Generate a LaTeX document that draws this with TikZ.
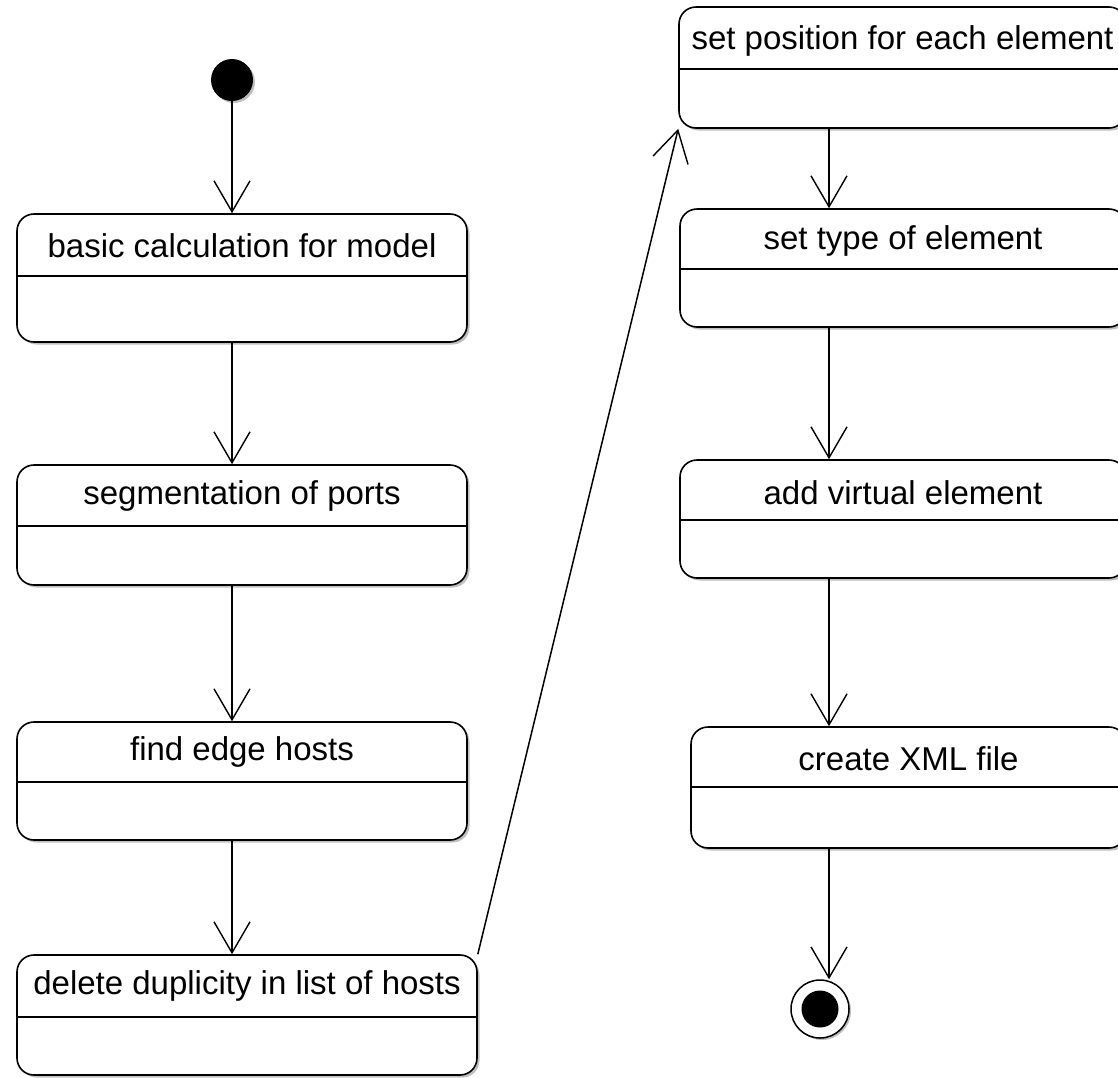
\documentclass[tikz,border=0pt]{standalone}
\usepackage{fontspec}
\setmainfont{Liberation Sans}
\usetikzlibrary{arrows.meta,calc,shadows}
\begin{document}
\begin{tikzpicture}[x=1pt,y=-1pt,
  lw/.style={line width=1.6pt},
  state/.style={draw, line width=1.6pt, rounded corners=17pt, fill=white, inner sep=0pt,
    drop shadow={shadow xshift=2.5pt, shadow yshift=-2.5pt, opacity=0.25, fill=black}},
  lbl/.style={font=\fontsize{33}{38}\selectfont, inner sep=0pt},
  arr/.style={line width=1.5pt, -{Straight Barb[length=31pt, width=36pt, line width=1.4pt]}}]
\useasboundingbox (0,0) rectangle (1118,1077);
\clip (0,0) rectangle (1118,1077);
\fill[white] (0,0) rectangle (1118,1077);

% left column
\node[state, minimum width=450pt, minimum height=128pt] (b1) at (242,278) {};
\node[state, minimum width=450pt, minimum height=120pt] (b2) at (242,525) {};
\node[state, minimum width=450pt, minimum height=118pt] (b3) at (242,781) {};
\node[state, minimum width=460pt, minimum height=120pt] (b4) at (247,1015) {};
% right column
\node[state, minimum width=447pt, minimum height=121pt] (r1) at (902.5,67.5) {};
\node[state, minimum width=446pt, minimum height=118pt] (r2) at (903,268) {};
\node[state, minimum width=446pt, minimum height=118pt] (r3) at (903,519) {};
\node[state, minimum width=435pt, minimum height=121pt] (r4) at (908.5,787.5) {};

% dividers
\draw[lw] ($(b1.north west)+(0,63)$) -- ($(b1.north east)+(0,63)$);
\draw[lw] ($(b2.north west)+(0,62)$) -- ($(b2.north east)+(0,62)$);
\draw[lw] ($(b3.north west)+(0,61)$) -- ($(b3.north east)+(0,61)$);
\draw[lw] ($(b4.north west)+(0,63)$) -- ($(b4.north east)+(0,63)$);
\draw[lw] ($(r1.north west)+(0,63)$) -- ($(r1.north east)+(0,63)$);
\draw[lw] ($(r2.north west)+(0,61)$) -- ($(r2.north east)+(0,61)$);
\draw[lw] ($(r3.north west)+(0,61)$) -- ($(r3.north east)+(0,61)$);
\draw[lw] ($(r4.north west)+(0,61)$) -- ($(r4.north east)+(0,61)$);

% labels
\node[lbl] (t1) at ($(b1.north)+(0,32)$) {basic calculation for model};
\node[lbl] (t2) at ($(b2.north)+(0,32)$) {segmentation of ports};
\node[lbl] (t3) at ($(b3.north)+(0,31)$) {find edge hosts};
\node[lbl] (t4) at ($(b4.north)+(0,32)$) {delete duplicity in list of hosts};
\node[lbl] (u1) at ($(r1.north)+(0,35)$) {set position for each element};
\node[lbl] (u2) at ($(r2.north)+(0,33)$) {set type of element};
\node[lbl] (u3) at ($(r3.north)+(0,33)$) {add virtual element};
\node[lbl] (u4) at ($(r4.north)+(0,32)$) {create XML file};

% initial and final states
\node[circle, fill=black, minimum size=42pt, inner sep=0pt,
  drop shadow={shadow xshift=2pt, shadow yshift=-2pt, opacity=0.25, fill=black}] (start) at (232,80) {};
\node[circle, draw, line width=1.5pt, fill=white, minimum size=58pt, inner sep=0pt,
  drop shadow={shadow xshift=2pt, shadow yshift=-2pt, opacity=0.25, fill=black}] (end) at (820,1009) {};
\node[circle, fill=black, minimum size=37pt, inner sep=0pt] (endin) at (end.center) {};

\coordinate (lc) at (232,0);
\coordinate (rc) at (829,0);

% connectors
\draw[arr] (start) -- (b1.north -| lc);
\draw[arr] (b1.south -| lc) -- (b2.north -| lc);
\draw[arr] (b2.south -| lc) -- (b3.north -| lc);
\draw[arr] (b3.south -| lc) -- (b4.north -| lc);
\draw[arr] (b4.north east) -- (r1.south west);
\draw[arr] (r1.south -| rc) -- (r2.north -| rc);
\draw[arr] (r2.south -| rc) -- (r3.north -| rc);
\draw[arr] (r3.south -| rc) -- (r4.north -| rc);
\draw[arr] (r4.south -| rc) -- (end.north -| rc);
\end{tikzpicture}
\end{document}
